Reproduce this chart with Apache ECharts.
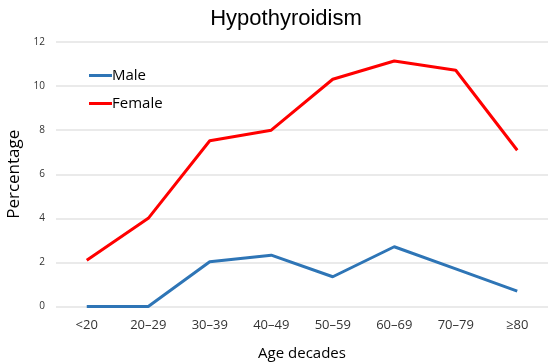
<!DOCTYPE html>
<html><head><meta charset="utf-8">
<script src="https://cdn.jsdelivr.net/npm/echarts@6/dist/echarts.min.js"></script>
<style>html,body{margin:0;padding:0;background:#fff}#c{width:550px;height:363px}</style>
</head><body><div id="c"></div>
<script>
const categories = ['<20','20\u201329','30\u201339','40\u201349','50\u201359','60\u201369','70\u201379','\u226580'];
const male = [0, 0, 2.03, 2.33, 1.35, 2.71, 1.71, 0.70];
const female = [2.1, 4.0, 7.52, 8.0, 10.31, 11.14, 10.72, 7.09];
const yTicks = [0, 2, 4, 6, 8, 10, 12];

const chart = echarts.init(document.getElementById('c'));
chart.setOption({
  animation: false,
  title: {text: 'Hypothyroidism', left: 281, top: 3, textAlign: 'center',
    textStyle: {fontFamily: 'Liberation Sans, Arial', fontSize: 22, fontWeight: 'normal', color: '#000'}},
  legend: {orient: 'vertical', left: 84, top: 63, itemGap: 13, itemWidth: 23, itemHeight: 3,
    icon: 'rect', textStyle: {fontFamily: 'Open Sans, Liberation Sans', fontSize: 15, color: '#000', padding: [0,0,0,-5]},
    data: ['Male', 'Female']},
  grid: {left: 56, right: 2, top: 42, bottom: 363 - 306.5, outerBoundsMode: 'none', containLabel: false},
  xAxis: {type: 'category', data: categories, boundaryGap: true,
    name: 'Age decades', nameLocation: 'middle', nameGap: 40,
    nameTextStyle: {fontFamily: 'Open Sans, Liberation Sans', fontSize: 15, color: '#000'},
    axisLine: {show: false}, axisTick: {show: false},
    axisLabel: {fontFamily: 'Open Sans, Liberation Sans', fontSize: 13, color: '#333', margin: 12}},
  yAxis: {type: 'value', min: 0, max: 12, interval: 2,
    name: 'Percentage', nameLocation: 'middle', nameGap: 27,
    nameTextStyle: {fontFamily: 'Open Sans, Liberation Sans', fontSize: 17, color: '#000'},
    axisLine: {show: false}, axisTick: {show: false},
    axisLabel: {fontFamily: 'Open Sans, Liberation Sans', fontSize: 10, color: '#333', margin: 11,
      formatter: v => yTicks.includes(v) ? String(v) : ''},
    splitLine: {lineStyle: {color: '#e3e3e3', width: 1.5}}},
  series: [
    {name: 'Male', type: 'line', data: male, symbol: 'none', color: '#2E75B6', lineStyle: {width: 3}},
    {name: 'Female', type: 'line', data: female, symbol: 'none', color: '#FF0000', lineStyle: {width: 3}}
  ]
});
</script></body></html>
